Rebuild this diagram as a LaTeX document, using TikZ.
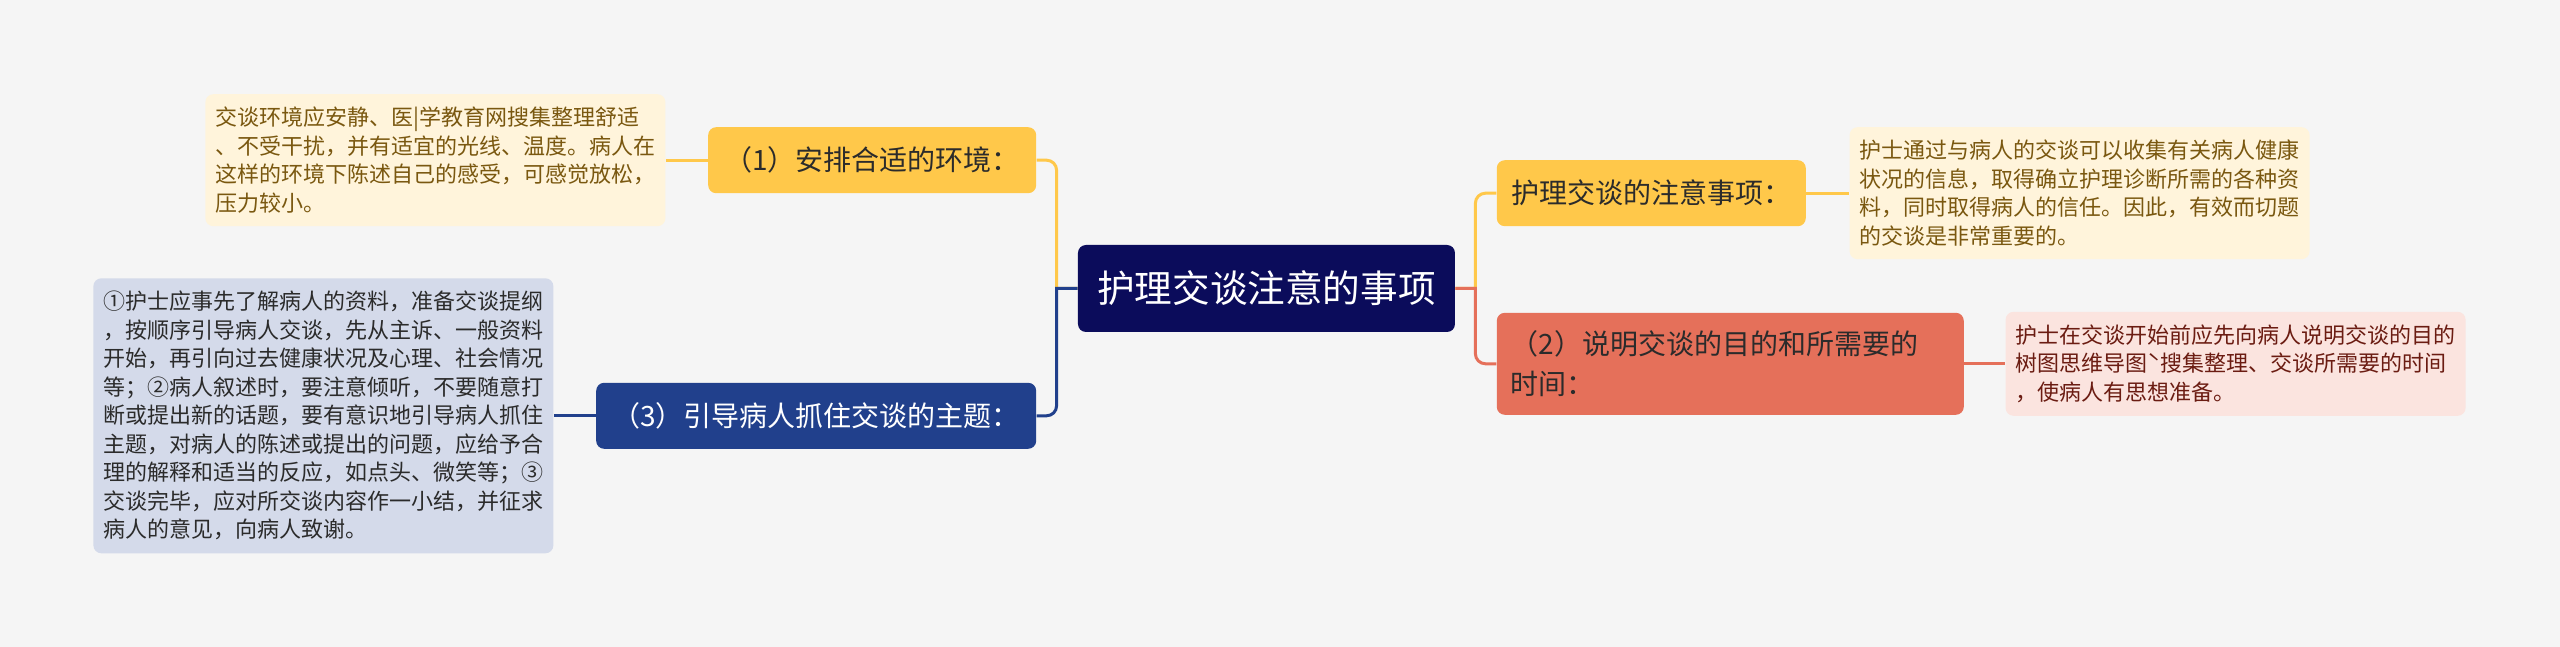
\documentclass[tikz,border=0pt]{standalone}
\usepackage{fontspec}
\setmainfont{Noto Sans CJK SC}
\usepackage{tikz}
\usetikzlibrary{positioning}
\definecolor{pagebg}{HTML}{F5F5F5}
\definecolor{rootblue}{HTML}{0B0C5B}
\definecolor{goldfill}{HTML}{FFC84A}
\definecolor{creamfill}{HTML}{FFF4DB}
\definecolor{browntext}{HTML}{7A5810}
\definecolor{navyfill}{HTML}{21408C}
\definecolor{greyfill}{HTML}{D4DAEA}
\definecolor{salmonfill}{HTML}{E5705A}
\definecolor{pinkfill}{HTML}{FBE4DF}
\definecolor{redtext}{HTML}{6B1C12}
\definecolor{darktext}{HTML}{2B2B2B}

\begin{document}
\begin{tikzpicture}[
        every node/.style={rounded corners=4pt, align=center, inner sep=0pt},
        root/.style={fill=rootblue, text=white, minimum width=188.5pt, minimum height=43.5pt, font=\fontsize{18.8}{22}\selectfont},
        topic/.style={minimum height=33pt, font=\fontsize{14}{20}\selectfont},
        goldtopic/.style={topic, fill=goldfill, text=darktext},
        detail/.style={minimum width=230pt, inner ysep=6.5pt, align=left, font=\fontsize{11}{14.25}\selectfont},
        link/.style={line width=1.5pt}
    ]
        \fill[pagebg] (-633.25pt,144.25pt) rectangle (646.75pt,-179.25pt);

        \node[root] (root) {护理交谈注意的事项};

        \node[goldtopic, minimum width=164pt, above left=25.5pt and 20.5pt of root] (env) {（1）安排合适的环境：};
        \node[topic, fill=navyfill, text=white, minimum width=220pt, below left=25pt and 20.5pt of root] (theme) {（3）引导病人抓住交谈的主题：};
        \node[goldtopic, minimum width=154.5pt, above right=9pt and 20.5pt of root] (note) {护理交谈的注意事项：};
        \node[topic, fill=salmonfill, text=darktext, text width=219.5pt, inner xsep=7pt, minimum height=51pt, align=left, below right=-10pt and 20.5pt of root] (purpose) {（2）说明交谈的目的和所需要的\\时间：};

        \node[detail, fill=creamfill, text=browntext, left=21pt of env] (envtxt) {交谈环境应安静、医|学教育网搜集整理舒适\\、不受干扰，并有适宜的光线、温度。病人在\\这样的环境下陈述自己的感受，可感觉放松，\\压力较小。};
        \node[detail, fill=greyfill, text=darktext, left=21pt of theme] (themetxt) {①护士应事先了解病人的资料，准备交谈提纲\\，按顺序引导病人交谈，先从主诉、一般资料\\开始，再引向过去健康状况及心理、社会情况\\等；②病人叙述时，要注意倾听，不要随意打\\断或提出新的话题，要有意识地引导病人抓住\\主题，对病人的陈述或提出的问题，应给予合\\理的解释和适当的反应，如点头、微笑等；③\\交谈完毕，应对所交谈内容作一小结，并征求\\病人的意见，向病人致谢。};
        \node[detail, fill=creamfill, text=browntext, right=21.5pt of note] (notetxt) {护士通过与病人的交谈可以收集有关病人健康\\状况的信息，取得确立护理诊断所需的各种资\\料，同时取得病人的信任。因此，有效而切题\\的交谈是非常重要的。};
        \node[detail, fill=pinkfill, text=redtext, right=20.5pt of purpose] (purposetxt) {护士在交谈开始前应先向病人说明交谈的目的\\树图思维导图ˋ搜集整理、交谈所需要的时间\\，使病人有思想准备。};

        \draw[link, goldfill] (root.west) -- ++(-10.5pt,0) [rounded corners=5pt] |- (env.east);
        \draw[link, navyfill] (root.west) -- ++(-10.5pt,0) [rounded corners=5pt] |- (theme.east);
        \draw[link, goldfill] (root.east) -- ++(10pt,0) [rounded corners=5pt] |- (note.west);
        \draw[link, salmonfill] (root.east) -- ++(10pt,0) [rounded corners=5pt] |- (purpose.west);

        \draw[link, goldfill] (env) -- (envtxt);
        \draw[link, navyfill] (theme) -- (themetxt);
        \draw[link, goldfill] (note) -- (notetxt);
        \draw[link, salmonfill] (purpose) -- (purposetxt);
    \end{tikzpicture}
\end{document}
